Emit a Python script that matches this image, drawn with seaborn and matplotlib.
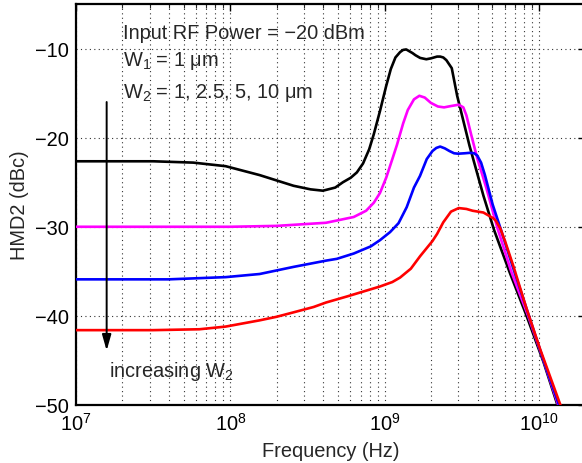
import numpy as np
import pandas as pd
import matplotlib
matplotlib.use("Agg")
import matplotlib.pyplot as plt
import seaborn as sns
from matplotlib.ticker import LogLocator, NullFormatter, NullLocator, FixedLocator

# ---- data (frequency as log10(Hz), HMD2 in dBc) ----
black_logf = [7.0, 7.5, 7.76, 7.97, 8.19, 8.41, 8.52, 8.60, 8.68, 8.73, 8.78, 8.82, 8.86,
              8.90, 8.93, 8.97, 9.01, 9.04, 9.07, 9.10, 9.12, 9.14, 9.16, 9.18, 9.20, 9.23,
              9.27, 9.30, 9.34, 9.36, 9.38, 9.40, 9.435, 9.47, 9.55, 9.64, 9.71, 9.81, 9.92,
              10.03, 10.12, 10.2]
black_db = [-22.65, -22.65, -22.8, -23.2, -24.2, -25.4, -25.8, -25.95, -25.6, -25.0, -24.5,
            -23.9, -22.9, -21.3, -19.6, -17.0, -14.2, -12.3, -11.0, -10.4, -10.15, -10.1,
            -10.3, -10.5, -10.75, -11.05, -11.2, -11.1, -10.9, -10.9, -11.0, -11.3, -12.2,
            -15.3, -20.9, -26.5, -30.4, -35.1, -40.0, -45.2, -50.0, -54.0]

magenta_logf = [7.0, 8.0, 8.3, 8.62, 8.69, 8.80, 8.88, 8.93, 8.97, 9.01, 9.05, 9.08, 9.12,
                9.15, 9.19, 9.225, 9.26, 9.30, 9.345, 9.385, 9.43, 9.48, 9.51, 9.53, 9.56,
                9.60, 9.66, 9.73, 9.82, 9.93, 10.03, 10.125, 10.2]
magenta_db = [-30.0, -30.0, -29.9, -29.55, -29.3, -28.9, -28.2, -27.3, -26.2, -24.5, -22.4,
              -20.8, -18.4, -16.9, -15.7, -15.3, -15.5, -16.1, -16.5, -16.6, -16.45, -16.3,
              -16.6, -17.5, -19.6, -22.3, -25.7, -30.1, -35.0, -40.0, -45.0, -50.0, -53.6]

blue_logf = [7.0, 7.6, 7.97, 8.19, 8.41, 8.62, 8.69, 8.80, 8.91, 8.97, 9.035, 9.09, 9.143,
             9.19, 9.229, 9.273, 9.31, 9.335, 9.36, 9.39, 9.42, 9.45, 9.476, 9.52, 9.553,
             9.58, 9.60, 9.625, 9.65, 9.70, 9.755, 9.84, 9.935, 10.03, 10.13, 10.2]
blue_db = [-35.9, -35.9, -35.65, -35.3, -34.5, -33.8, -33.6, -33.0, -32.2, -31.5, -30.6,
           -29.6, -27.8, -25.6, -24.3, -22.4, -21.5, -21.15, -21.0, -21.2, -21.5, -21.75,
           -21.8, -21.75, -21.7, -21.75, -22.0, -22.8, -24.2, -27.5, -30.4, -35.0, -40.0,
           -45.0, -50.0, -53.5]

red_logf = [7.0, 7.5, 7.8, 7.97, 8.19, 8.30, 8.41, 8.54, 8.62, 8.76, 8.97, 9.05, 9.10, 9.17,
            9.23, 9.31, 9.34, 9.38, 9.43, 9.48, 9.53, 9.57, 9.64, 9.70, 9.72, 9.75, 9.78,
            9.834, 9.92, 10.007, 10.137, 10.2]
red_db = [-41.6, -41.6, -41.5, -41.2, -40.5, -40.1, -39.6, -39.0, -38.5, -37.8, -36.7, -36.2,
          -35.7, -34.7, -33.3, -31.6, -30.8, -29.5, -28.3, -27.9, -28.0, -28.2, -28.4, -29.0,
          -29.3, -30.2, -31.6, -34.4, -39.2, -43.7, -49.9, -52.8]

series_names = ["W2 = 1 um", "W2 = 2.5 um", "W2 = 5 um", "W2 = 10 um"]
series_colors = ["#000000", "#FF00FF", "#0000FF", "#FF0000"]

y_ticks = [-50, -40, -30, -20, -10]
x_major_ticks = [1e7, 1e8, 1e9, 1e10]

frames = []
for name, lf, db in zip(series_names,
                        [black_logf, magenta_logf, blue_logf, red_logf],
                        [black_db, magenta_db, blue_db, red_db]):
    frames.append(pd.DataFrame({"freq": 10 ** np.array(lf), "db": db, "series": name}))
df = pd.concat(frames, ignore_index=True)

# ---- style ----
sns.set_theme(style="white")
plt.rcParams["font.family"] = ["Liberation Sans", "DejaVu Sans"]
plt.rcParams["mathtext.fontset"] = "custom"
plt.rcParams["mathtext.rm"] = "Liberation Sans"
plt.rcParams["mathtext.default"] = "regular"
plt.rcParams["axes.unicode_minus"] = True

FS = 14.4
fig = plt.figure(figsize=(5.82, 4.64), dpi=100)
ax = fig.add_axes([76 / 582, 58 / 464, 509.4 / 582, 401 / 464])
ax.set_xscale("log")

sns.lineplot(data=df, x="freq", y="db", hue="series", hue_order=series_names,
             palette=dict(zip(series_names, series_colors)), estimator=None, sort=False,
             linewidth=1.9, legend=False, ax=ax, zorder=3)

ax.set_xlim(1e7, 2e10)
ax.set_ylim(-50, -5)
ax.xaxis.set_major_locator(FixedLocator(x_major_ticks))
ax.xaxis.set_minor_locator(LogLocator(base=10, subs=np.arange(2, 10)))
ax.xaxis.set_minor_formatter(NullFormatter())
ax.set_yticks(y_ticks)
ax.yaxis.set_minor_locator(NullLocator())

grid_style = dict(linestyle=(0, (1, 3)), color="0.2", linewidth=0.8)
ax.grid(True, which="major", **grid_style)
ax.grid(True, which="minor", axis="x", **grid_style)

for s in ax.spines.values():
    s.set_visible(True)
    s.set_color("black")
    s.set_linewidth(1.6)

ax.tick_params(which="major", direction="in", length=5, width=1.0, top=True, right=True,
               labelsize=FS, colors="black", pad=5)
ax.tick_params(which="minor", direction="in", length=3, width=0.8, top=True, right=True)

ax.set_xlabel("Frequency (Hz)", fontsize=FS, labelpad=5)
ax.set_ylabel("HMD2 (dBc)", fontsize=FS, labelpad=4)

# ---- annotations ----
ax.text(2.02e7, -8.8, "Input RF Power = \u221220 dBm", fontsize=FS, va="baseline", ha="left")
ax.text(2.02e7, -11.9, "W$_1$ = 1 \u03bcm", fontsize=FS, va="baseline", ha="left")
ax.text(2.02e7, -15.45, "W$_2$ = 1, 2.5, 5, 10 \u03bcm", fontsize=FS, va="baseline", ha="left")
ax.text(1.64e7, -46.7, "increasing W$_2$", fontsize=FS, va="baseline", ha="left")

ax.annotate("", xy=(1.58e7, -43.9), xytext=(1.58e7, -16.0),
            arrowprops=dict(arrowstyle="-|>,head_length=0.95,head_width=0.27",
                            color="black", lw=1.4, shrinkA=0, shrinkB=0,
                            mutation_scale=10))

fig.savefig("out.png", dpi=100)
